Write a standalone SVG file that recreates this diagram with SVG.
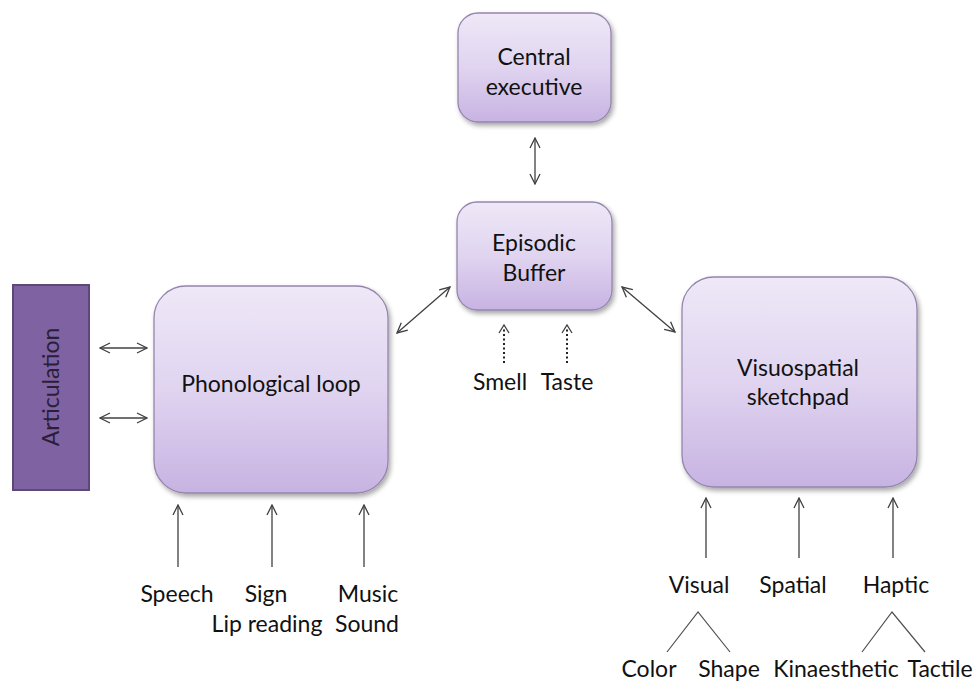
<svg xmlns="http://www.w3.org/2000/svg" width="975" height="682" viewBox="0 0 975 682">
  <defs>
    <linearGradient id="boxFill" x1="0" y1="0" x2="0" y2="1">
      <stop offset="0" stop-color="#eee8f7"/>
      <stop offset="0.5" stop-color="#e0d4f0"/>
      <stop offset="1" stop-color="#c7b3e2"/>
    </linearGradient>
    <filter id="shadow" x="-10%" y="-10%" width="125%" height="130%">
      <feGaussianBlur in="SourceAlpha" stdDeviation="2.5"/>
      <feOffset dx="1.5" dy="3" result="b"/>
      <feComponentTransfer><feFuncA type="linear" slope="0.35"/></feComponentTransfer>
      <feMerge><feMergeNode/><feMergeNode in="SourceGraphic"/></feMerge>
    </filter>
    <marker id="head" viewBox="0 0 12 12" refX="11" refY="6" markerWidth="12" markerHeight="12" markerUnits="userSpaceOnUse" orient="auto-start-reverse">
      <path d="M1,1 L11,6 L1,11" fill="none" stroke="#404040" stroke-width="1.3"/>
    </marker>
  </defs>
  <style>
    .box { fill: url(#boxFill); stroke: #9585ad; stroke-width: 1.3; filter: url(#shadow); }
    .artic { fill: #7f62a1; stroke: #5d4878; stroke-width: 2; }
    .lbl { font-family: "Lato", "Open Sans", "Liberation Sans", sans-serif; font-size: 23px; fill: #111111; text-anchor: middle; }
    .arr { stroke: #404040; stroke-width: 1.3; fill: none; }
    .two { marker-start: url(#head); marker-end: url(#head); }
    .one { marker-end: url(#head); }
    .dot { stroke-dasharray: 2 2.5; stroke-width: 2; stroke: #222; }
    .tree { stroke: #505050; stroke-width: 1.2; fill: none; }
  </style>
  <rect width="975" height="682" fill="#ffffff"/>

  <g id="central-executive">
    <rect class="box" x="458" y="13" width="153" height="109" rx="20"/>
    <text class="lbl" x="534" y="65">Central</text>
    <text class="lbl" x="534" y="95">executive</text>
  </g>

  <g id="episodic-buffer">
    <rect class="box" x="457" y="202" width="155" height="108" rx="20"/>
    <text class="lbl" x="534" y="251">Episodic</text>
    <text class="lbl" x="534" y="281">Buffer</text>
  </g>

  <g id="phonological-loop">
    <rect class="box" x="154" y="286" width="234" height="207" rx="32"/>
    <text class="lbl" x="271" y="392">Phonological loop</text>
  </g>

  <g id="visuospatial-sketchpad">
    <rect class="box" x="682" y="277" width="235" height="210" rx="32"/>
    <text class="lbl" x="798" y="376">Visuospatial</text>
    <text class="lbl" x="798" y="405">sketchpad</text>
  </g>

  <g id="articulation">
    <rect class="artic" x="13" y="285" width="76" height="205"/>
    <text class="lbl" transform="translate(59 387) rotate(-90)" style="fill:#2a1f38">Articulation</text>
  </g>

  <g id="connectors">
    <line class="arr two" x1="535" y1="138" x2="535" y2="184"/>
    <line class="arr two" x1="397" y1="333" x2="450" y2="287"/>
    <line class="arr two" x1="622" y1="287" x2="675" y2="332"/>
    <line class="arr two" x1="100" y1="348" x2="147" y2="348"/>
    <line class="arr two" x1="100" y1="418" x2="147" y2="418"/>
    <line class="arr dot" x1="504" y1="363" x2="504" y2="329"/>
    <path class="arr" d="M499,333 L504,325 L509,333"/>
    <line class="arr dot" x1="567" y1="363" x2="567" y2="329"/>
    <path class="arr" d="M562,333 L567,325 L572,333"/>
    <line class="arr one" x1="178" y1="567" x2="178" y2="505"/>
    <line class="arr one" x1="272" y1="567" x2="272" y2="505"/>
    <line class="arr one" x1="364" y1="567" x2="364" y2="505"/>
    <line class="arr one" x1="706" y1="558" x2="706" y2="498"/>
    <line class="arr one" x1="799" y1="558" x2="799" y2="498"/>
    <line class="arr one" x1="893" y1="558" x2="893" y2="498"/>
    <path class="tree" d="M667,652 L698,612 L730,652"/>
    <path class="tree" d="M862,652 L892,612 L925,652"/>
  </g>

  <g id="inputs">
    <text class="lbl" x="500" y="390">Smell</text>
    <text class="lbl" x="567" y="390">Taste</text>
    <text class="lbl" x="177" y="602">Speech</text>
    <text class="lbl" x="266" y="602">Sign</text>
    <text class="lbl" x="368" y="602">Music</text>
    <text class="lbl" x="267" y="632">Lip reading</text>
    <text class="lbl" x="367" y="632">Sound</text>
    <text class="lbl" x="699" y="593">Visual</text>
    <text class="lbl" x="793" y="593">Spatial</text>
    <text class="lbl" x="896" y="593">Haptic</text>
    <text class="lbl" x="649" y="677">Color</text>
    <text class="lbl" x="729" y="677">Shape</text>
    <text class="lbl" x="836" y="677">Kinaesthetic</text>
    <text class="lbl" x="940" y="677">Tactile</text>
  </g>
</svg>
